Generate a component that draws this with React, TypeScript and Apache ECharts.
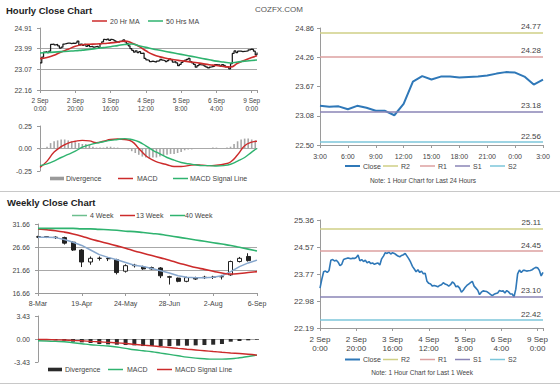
import React, { useEffect, useRef } from 'react';
import * as echarts from 'echarts';

const FONT = 'Liberation Sans, Arial, sans-serif';

// ---------- Hourly data (1 week, 124 hourly points) ----------
const hourTicks = ['2 Sep\n0:00', '2 Sep\n20:00', '3 Sep\n16:00', '4 Sep\n12:00', '5 Sep\n8:00', '6 Sep\n4:00', '9 Sep\n0:00'];
const last24Hours = ['3:00', '4:00', '5:00', '6:00', '7:00', '8:00', '9:00', '10:00', '11:00', '12:00', '13:00', '14:00', '15:00', '16:00', '17:00', '18:00', '19:00', '20:00', '21:00', '22:00', '23:00', '0:00', '1:00', '2:00', '3:00'];
const last24Close = [23.29, 23.27, 23.28, 23.22, 23.29, 23.25, 23.19, 23.19, 23.10, 23.33, 23.78, 23.89, 23.82, 23.88, 23.88, 23.86, 23.87, 23.88, 23.90, 23.94, 23.97, 23.96, 23.88, 23.72, 23.82];
const earlierClose = [
  23.36, 23.62, 23.84, 23.86, 23.82, 23.88, 24.18, 24.20, 24.16, 24.18,
  24.12, 24.02, 24.06, 24.20, 24.22, 24.24, 24.24, 24.22, 24.24, 24.23,
  24.26, 24.33, 24.16, 24.20, 24.14, 24.18, 24.10, 24.14, 24.08, 24.10,
  24.06, 24.08, 24.10, 24.04, 24.22, 24.30, 24.40, 24.38, 24.42, 24.36,
  24.40, 24.38, 24.34, 24.30, 24.28, 24.32, 24.34, 24.38, 24.30, 24.22,
  24.12, 24.00, 23.92, 23.84, 23.90, 23.82, 23.86, 23.78, 23.80, 23.56,
  23.50, 23.48, 23.42, 23.44, 23.42, 23.40, 23.44, 23.46, 23.52, 23.48,
  23.46, 23.42, 23.46, 23.54, 23.50, 23.40, 23.42, 23.36, 23.24, 23.30,
  23.38, 23.44, 23.48, 23.52, 23.56, 23.42, 23.36, 23.30, 23.17, 23.24,
  23.28, 23.27, 23.26, 23.22, 23.18, 23.14, 23.18, 23.20, 23.22,
];
const hourlyClose = [...earlierClose, ...last24Close];

const maHours = [0, 4, 8, 12, 16, 20, 24, 28, 32, 36, 40, 44, 48, 52, 56, 60, 64, 68, 72, 76, 80, 84, 88, 92, 96, 100, 104, 108, 112, 116, 120, 123];
const ma20 = [23.55, 23.60, 23.70, 23.85, 23.97, 24.10, 24.17, 24.19, 24.20, 24.22, 24.25, 24.28, 24.33, 24.25, 24.10, 23.90, 23.73, 23.63, 23.56, 23.50, 23.46, 23.42, 23.38, 23.33, 23.28, 23.25, 23.20, 23.18, 23.35, 23.48, 23.60, 23.68];
const ma50 = [23.80, 23.82, 23.84, 23.86, 23.88, 23.90, 23.93, 23.96, 24.00, 24.04, 24.08, 24.13, 24.18, 24.20, 24.12, 24.05, 23.98, 23.92, 23.86, 23.80, 23.74, 23.68, 23.62, 23.56, 23.50, 23.44, 23.40, 23.36, 23.40, 23.44, 23.47, 23.49];
const macdH = [-0.21, -0.14, -0.04, 0.02, 0.06, 0.08, 0.09, 0.085, 0.065, 0.08, 0.10, 0.105, 0.10, 0.08, 0.0, -0.08, -0.13, -0.16, -0.18, -0.20, -0.20, -0.19, -0.18, -0.185, -0.19, -0.185, -0.175, -0.15, -0.07, 0.03, 0.07, 0.08];
const signalH = [-0.19, -0.17, -0.14, -0.10, -0.065, -0.03, 0.015, 0.04, 0.06, 0.075, 0.09, 0.10, 0.11, 0.10, 0.075, 0.03, -0.02, -0.06, -0.10, -0.13, -0.155, -0.17, -0.18, -0.19, -0.19, -0.195, -0.19, -0.175, -0.14, -0.10, -0.04, 0.0];
// divergence, one value every 2 hours
const divH = [-0.01, 0, 0.02, 0.06, 0.08, 0.09, 0.1, 0.1, 0.09, 0.08, 0.07, 0.06, 0.05, 0.05, 0.04, 0.02, 0.01, 0.01, 0.01, 0.02, 0.02, 0.01, 0.01, 0, 0, -0.01, -0.03, -0.05, -0.07, -0.09, -0.1, -0.11, -0.1, -0.1, -0.09, -0.08, -0.07, -0.06, -0.06, -0.05, -0.04, -0.02, -0.01, -0.01, 0, 0, 0, 0, 0, 0.01, 0.01, 0, 0, 0.01, 0.02, 0.05, 0.08, 0.1, 0.11, 0.11, 0.1, 0.09];

const tlYTicks = ['22.16', '23.07', '23.99', '24.91'];
const macdHTicks = ['-0.25', '0.00', '0.25'];
const trYTicks = ['22.50', '23.08', '23.67', '24.26', '24.86'];
const brYTicks = ['22.19', '22.98', '23.77', '24.57', '25.36'];
const levels24 = [24.77, 24.28, 23.18, 22.56];
const levelsWeek = [25.11, 24.45, 23.10, 22.42];
const levelNames = ['R2', 'R1', 'S1', 'S2'];

// ---------- Weekly data ----------
const weekTicks = ['8-Mar', '19-Apr', '24-May', '28-Jun', '2-Aug', '6-Sep'];
const weekCount = 26;
const wOpen = [28.8, 28.9, 28.8, 28.7, 27.7, 26.0, 23.4, 24.2, 24.2, 23.9, 21.4, 22.6, 22.3, 21.9, 22.1, 20.2, 19.9, 19.2, 20.0, 20.0, 20.1, 20.2, 20.6, 23.5, 24.6];
const wClose = [28.9, 28.8, 28.7, 27.5, 26.0, 23.4, 24.2, 24.2, 24.1, 21.1, 22.6, 22.7, 21.9, 22.2, 20.4, 20.1, 19.2, 20.0, 19.7, 20.1, 20.1, 20.2, 23.5, 24.2, 23.7];
const wLow = [28.6, 28.6, 28.4, 27.2, 25.8, 22.3, 22.8, 23.7, 23.6, 20.7, 21.1, 22.2, 21.7, 21.7, 19.9, 18.5, 19.0, 19.0, 19.5, 19.7, 19.7, 19.6, 20.4, 23.3, 23.5];
const wHigh = [29.1, 29.0, 29.0, 28.9, 27.9, 26.2, 24.6, 24.6, 24.4, 24.1, 22.9, 23.0, 22.6, 22.4, 22.3, 20.4, 20.0, 20.2, 20.2, 20.4, 20.4, 20.6, 23.7, 24.5, 25.3];
const ma4w = [28.8, 28.8, 28.7, 28.3, 27.7, 27.0, 26.0, 25.0, 24.4, 23.9, 23.3, 22.7, 22.4, 22.0, 21.5, 21.0, 20.4, 20.1, 20.0, 20.0, 20.1, 20.4, 21.3, 22.4, 23.2, 23.8];
const ma13w = [30.6, 30.4, 30.2, 29.9, 29.5, 29.0, 28.4, 27.9, 27.4, 26.9, 26.4, 25.8, 25.3, 24.8, 24.3, 23.8, 23.2, 22.7, 22.2, 21.8, 21.4, 21.0, 20.8, 20.9, 21.1, 21.3];
const ma40w = [30.7, 30.7, 30.7, 30.7, 30.7, 30.6, 30.6, 30.5, 30.4, 30.3, 30.1, 30.0, 29.8, 29.6, 29.4, 29.1, 28.8, 28.5, 28.2, 27.9, 27.6, 27.3, 27.0, 26.6, 26.2, 25.8];
const macdW = [-0.25, -0.3, -0.35, -0.4, -0.55, -0.7, -0.85, -0.95, -1.05, -1.2, -1.4, -1.6, -1.75, -1.9, -2.1, -2.3, -2.5, -2.7, -2.85, -2.95, -3.0, -3.0, -2.95, -2.8, -2.6, -2.4];
const signalW = [-0.05, -0.08, -0.12, -0.15, -0.2, -0.27, -0.35, -0.42, -0.5, -0.58, -0.68, -0.8, -0.92, -1.03, -1.15, -1.27, -1.4, -1.52, -1.63, -1.75, -1.87, -1.98, -2.08, -2.17, -2.27, -2.4];
const divW = [0, -0.15, -0.2, -0.25, -0.4, -0.5, -0.6, -0.75, -0.8, -0.85, -0.9, -0.95, -1.05, -1.05, -1.05, -1.05, -1.0, -1.0, -0.95, -0.9, -0.85, -0.75, -0.4, -0.3, -0.2, -0.1];
const wYTicks = ['16.66', '21.66', '26.66', '31.66'];
const macdWTicks = ['-3.43', '0.00', '3.43'];

// ---------- colours ----------
const RED = '#cc2b2b';
const GREEN = '#2fb36f';
const BLUE = '#2f78b8';
const levelColors = ['#cfcf86', '#dca0a0', '#8a84b6', '#7cc6da'];

const nearest = (labels: string[]) => (v: number) =>
  labels.reduce((b, l) => (Math.abs(parseFloat(l) - v) < Math.abs(parseFloat(b) - v) ? l : b), labels[0]);
const hourFmt = (v: number) => (v % 20 === 0 && hourTicks[v / 20]) || '';

const axisLineStyle = { lineStyle: { color: '#9a9a9a' } };
const tickStyle = { length: 3, lineStyle: { color: '#9a9a9a' } };
const lbl = (fs: number, extra: any = {}) => ({ fontSize: fs, color: '#444', fontFamily: FONT, ...extra });

function legendLine(x: number, y: number, color: string, text: string, tx: number, lw = 1.5, w = 15) {
  return [
    { type: 'line', shape: { x1: x, y1: y, x2: x + w, y2: y }, style: { stroke: color, lineWidth: lw } },
    { type: 'text', x: tx, y, style: { text, fontSize: 7, fontFamily: FONT, fill: '#444', verticalAlign: 'middle' } },
  ];
}
function legendBox(x: number, y: number, color: string, text: string, tx: number) {
  return [
    { type: 'rect', shape: { x, y: y - 1.8, width: 14, height: 3.6 }, style: { fill: color } },
    { type: 'text', x: tx, y, style: { text, fontSize: 7, fontFamily: FONT, fill: '#444', verticalAlign: 'middle' } },
  ];
}
function levelMarks(levels: number[], fs: number) {
  return {
    silent: true,
    symbol: ['none', 'none'],
    animation: false,
    data: levels.map((v, i) => ({
      name: levelNames[i],
      yAxis: v,
      lineStyle: { color: levelColors[i], width: 1.5, type: 'solid' },
      label: { show: true, position: 'insideEndTop', formatter: v.toFixed(2), color: '#444', fontSize: fs, fontFamily: FONT, distance: 2 },
    })),
  };
}

export default function App() {
  const ref = useRef<HTMLDivElement>(null);
  useEffect(() => {
    if (!ref.current) return;
    const chart = echarts.init(ref.current, undefined, { renderer: 'svg' });
    const weekCats = Array.from({ length: weekCount }, (_, i) => 'w' + i);
    const weekFmt = (_: string, i: number) => (i % 5 === 0 ? weekTicks[i / 5] : '');

    const graphic: any[] = [
      { type: 'text', x: 6, y: 10, style: { text: 'Hourly Close Chart', fontSize: 9.5, fontWeight: 'bold', fontFamily: FONT, fill: '#222', verticalAlign: 'middle' } },
      { type: 'text', x: 279, y: 9, style: { text: 'COZFX.COM', fontSize: 8, fontFamily: FONT, fill: '#555', align: 'center', verticalAlign: 'middle' } },
      { type: 'text', x: 7, y: 202, style: { text: 'Weekly Close Chart', fontSize: 9.5, fontWeight: 'bold', fontFamily: FONT, fill: '#222', verticalAlign: 'middle' } },
      { type: 'text', x: 423, y: 180, style: { text: 'Note: 1 Hour Chart for Last 24 Hours', fontSize: 6.5, fontFamily: FONT, fill: '#444', align: 'center', verticalAlign: 'middle' } },
      { type: 'text', x: 422, y: 372, style: { text: 'Note: 1 Hour Chart for Last 1 Week', fontSize: 6.5, fontFamily: FONT, fill: '#444', align: 'center', verticalAlign: 'middle' } },
      { type: 'line', shape: { x1: 0, y1: 191.5, x2: 560, y2: 191.5 }, style: { stroke: '#c8c8c8', lineWidth: 1 } },
      { type: 'line', shape: { x1: 0, y1: 383.5, x2: 560, y2: 383.5 }, style: { stroke: '#c8c8c8', lineWidth: 1 } },
      ...legendLine(92, 21, RED, '20 Hr MA', 110),
      ...legendLine(148, 21, GREEN, '50 Hrs MA', 166),
      ...legendBox(50, 178.5, '#9a9a9a', 'Divergence', 66),
      ...legendLine(118, 178.5, RED, 'MACD', 137),
      ...legendLine(173, 178.5, GREEN, 'MACD Signal Line', 190),
      ...legendLine(72, 215.5, '#6cbf8e', '4 Week', 90),
      ...legendLine(120, 215.5, RED, '13 Week', 136),
      ...legendLine(170, 215.5, GREEN, '40 Week', 185),
      ...legendBox(48, 369.5, '#2a2a2a', 'Divergence', 65),
      ...legendLine(108, 369.5, GREEN, 'MACD', 127),
      ...legendLine(157, 369.5, RED, 'MACD Signal Line', 175),
      ...legendLine(345, 166, BLUE, 'Close', 363, 2),
      ...legendLine(383, 166, levelColors[0], 'R2', 401),
      ...legendLine(420, 166, levelColors[1], 'R1', 438),
      ...legendLine(455, 166, levelColors[2], 'S1', 473),
      ...legendLine(490, 166, levelColors[3], 'S2', 508),
      ...legendLine(345, 359.5, BLUE, 'Close', 363, 2),
      ...legendLine(383, 359.5, levelColors[0], 'R2', 401),
      ...legendLine(420, 359.5, levelColors[1], 'R1', 438),
      ...legendLine(455, 359.5, levelColors[2], 'S1', 473),
      ...legendLine(490, 359.5, levelColors[3], 'S2', 508),
    ];

    const option: any = {
      animation: false,
      textStyle: { fontFamily: FONT },
      graphic,
      grid: [
        { left: 40, top: 28, width: 217, height: 62, outerBoundsMode: 'none' },
        { left: 40, top: 126, width: 217, height: 45, outerBoundsMode: 'none' },
        { left: 320, top: 28, width: 223, height: 117, outerBoundsMode: 'none' },
        { left: 38, top: 224, width: 219, height: 69, outerBoundsMode: 'none' },
        { left: 38, top: 316, width: 219, height: 46, outerBoundsMode: 'none' },
        { left: 320, top: 220, width: 223, height: 108, outerBoundsMode: 'none' },
      ],
      xAxis: [
        { gridIndex: 0, type: 'value', min: 0, max: hourlyClose.length - 1, interval: 20, splitLine: { show: false }, axisLine: axisLineStyle, axisTick: tickStyle, axisLabel: lbl(6.5, { formatter: hourFmt, lineHeight: 8.5, margin: 6 }) },
        { gridIndex: 1, type: 'value', min: 0, max: hourlyClose.length - 1, splitLine: { show: false }, axisLine: { onZero: true, lineStyle: { color: '#aaa' } }, axisTick: { show: false }, axisLabel: { show: false } },
        { gridIndex: 2, type: 'category', data: last24Hours, boundaryGap: false, axisLine: axisLineStyle, axisTick: { ...tickStyle, interval: 2 }, axisLabel: lbl(7, { interval: 2, margin: 8 }) },
        { gridIndex: 3, type: 'category', data: weekCats, boundaryGap: false, axisLine: axisLineStyle, axisTick: { ...tickStyle, interval: 4 }, axisLabel: lbl(7, { interval: 4, margin: 7, formatter: weekFmt }) },
        { gridIndex: 4, type: 'category', data: weekCats, boundaryGap: false, axisLine: { onZero: true, lineStyle: { color: '#aaa' } }, axisTick: { show: false }, axisLabel: { show: false } },
        { gridIndex: 5, type: 'value', min: 0, max: hourlyClose.length - 1, interval: 20, splitLine: { show: false }, axisLine: axisLineStyle, axisTick: tickStyle, axisLabel: lbl(8, { formatter: hourFmt, lineHeight: 9, margin: 7 }) },
      ],
      yAxis: [
        { gridIndex: 0, type: 'value', min: 22.16, max: 24.91, interval: (24.91 - 22.16) / 3, axisLine: { show: true, ...axisLineStyle }, axisTick: { show: true, ...tickStyle }, splitLine: { show: true, showMinLine: false, showMaxLine: false, lineStyle: { color: '#a8a8a8' } }, axisLabel: lbl(7, { formatter: nearest(tlYTicks), margin: 8 }) },
        { gridIndex: 1, type: 'value', min: -0.25, max: 0.25, interval: 0.25, axisLine: { show: true, ...axisLineStyle }, axisTick: { show: true, ...tickStyle }, splitLine: { show: false }, axisLabel: lbl(7, { formatter: nearest(macdHTicks), margin: 8 }) },
        { gridIndex: 2, type: 'value', min: 22.5, max: 24.86, interval: 0.59, axisLine: { show: true, ...axisLineStyle }, axisTick: { show: true, ...tickStyle }, splitLine: { show: false }, axisLabel: lbl(7.5, { formatter: nearest(trYTicks), margin: 6 }) },
        { gridIndex: 3, type: 'value', min: 16.66, max: 31.66, interval: 5, axisLine: { show: true, ...axisLineStyle }, axisTick: { show: true, ...tickStyle }, splitLine: { show: true, showMinLine: false, showMaxLine: false, lineStyle: { color: '#a8a8a8' } }, axisLabel: lbl(7, { formatter: nearest(wYTicks), margin: 8 }) },
        { gridIndex: 4, type: 'value', min: -3.43, max: 3.43, interval: 3.43, axisLine: { show: true, ...axisLineStyle }, axisTick: { show: true, ...tickStyle }, splitLine: { show: false }, axisLabel: lbl(7, { formatter: nearest(macdWTicks), margin: 8 }) },
        { gridIndex: 5, type: 'value', min: 22.19, max: 25.36, interval: (25.36 - 22.19) / 4, axisLine: { show: true, ...axisLineStyle }, axisTick: { show: true, ...tickStyle }, splitLine: { show: false }, axisLabel: lbl(8, { formatter: nearest(brYTicks), margin: 6 }) },
      ],
      series: [
        { name: 'Close', type: 'line', xAxisIndex: 0, yAxisIndex: 0, step: 'end', symbol: 'none', data: hourlyClose.map((v, i) => [i, v]), lineStyle: { color: '#1a1a1a', width: 1.25 }, z: 3 },
        { name: '20 Hr MA', type: 'line', xAxisIndex: 0, yAxisIndex: 0, smooth: true, symbol: 'none', data: maHours.map((h, i) => [h, ma20[i]]), lineStyle: { color: RED, width: 1.6 }, z: 4 },
        { name: '50 Hrs MA', type: 'line', xAxisIndex: 0, yAxisIndex: 0, smooth: true, symbol: 'none', data: maHours.map((h, i) => [h, ma50[i]]), lineStyle: { color: GREEN, width: 1.6 }, z: 4 },
        { name: 'Divergence', type: 'bar', xAxisIndex: 1, yAxisIndex: 1, barWidth: 1.6, data: divH.map((v, i) => [i * 2, v]), itemStyle: { color: '#a6a6a6' } },
        { name: 'MACD', type: 'line', xAxisIndex: 1, yAxisIndex: 1, smooth: true, symbol: 'none', data: maHours.map((h, i) => [h, macdH[i]]), lineStyle: { color: RED, width: 1.4 }, z: 4 },
        { name: 'MACD Signal Line', type: 'line', xAxisIndex: 1, yAxisIndex: 1, smooth: true, symbol: 'none', data: maHours.map((h, i) => [h, signalH[i]]), lineStyle: { color: GREEN, width: 1.4 }, z: 4 },
        { name: 'Close', type: 'line', xAxisIndex: 2, yAxisIndex: 2, symbol: 'none', data: last24Close, lineStyle: { color: BLUE, width: 2 }, z: 4, markLine: levelMarks(levels24, 8) },
        { name: 'Weekly', type: 'candlestick', xAxisIndex: 3, yAxisIndex: 3, barWidth: 4.5, clip: false, data: wOpen.map((o, i) => [o, wClose[i], wLow[i], wHigh[i]]), itemStyle: { color: '#ffffff', color0: '#222222', borderColor: '#222222', borderColor0: '#222222', borderWidth: 1 }, z: 3 },
        { name: '4 Week', type: 'line', xAxisIndex: 3, yAxisIndex: 3, symbol: 'none', data: ma4w, lineStyle: { color: '#86a6cc', width: 1.5 }, z: 4 },
        { name: '13 Week', type: 'line', xAxisIndex: 3, yAxisIndex: 3, smooth: true, symbol: 'none', data: ma13w, lineStyle: { color: RED, width: 1.6 }, z: 4 },
        { name: '40 Week', type: 'line', xAxisIndex: 3, yAxisIndex: 3, smooth: true, symbol: 'none', data: ma40w, lineStyle: { color: GREEN, width: 1.6 }, z: 4 },
        { name: 'Divergence W', type: 'bar', xAxisIndex: 4, yAxisIndex: 4, barWidth: 4, data: divW, itemStyle: { color: '#2a2a2a' } },
        { name: 'MACD W', type: 'line', xAxisIndex: 4, yAxisIndex: 4, smooth: true, symbol: 'none', data: macdW, lineStyle: { color: GREEN, width: 1.4 }, z: 4 },
        { name: 'Signal W', type: 'line', xAxisIndex: 4, yAxisIndex: 4, smooth: true, symbol: 'none', data: signalW, lineStyle: { color: RED, width: 1.4 }, z: 4 },
        { name: 'Close 1W', type: 'line', xAxisIndex: 5, yAxisIndex: 5, symbol: 'none', data: hourlyClose.map((v, i) => [i, v]), lineStyle: { color: BLUE, width: 1.6 }, z: 4, markLine: levelMarks(levelsWeek, 8) },
      ],
    };
    chart.setOption(option);
    return () => chart.dispose();
  }, []);
  return <div ref={ref} style={{ position: 'fixed', left: 0, top: 0, width: 560, height: 385, background: '#fff' }} />;
}
